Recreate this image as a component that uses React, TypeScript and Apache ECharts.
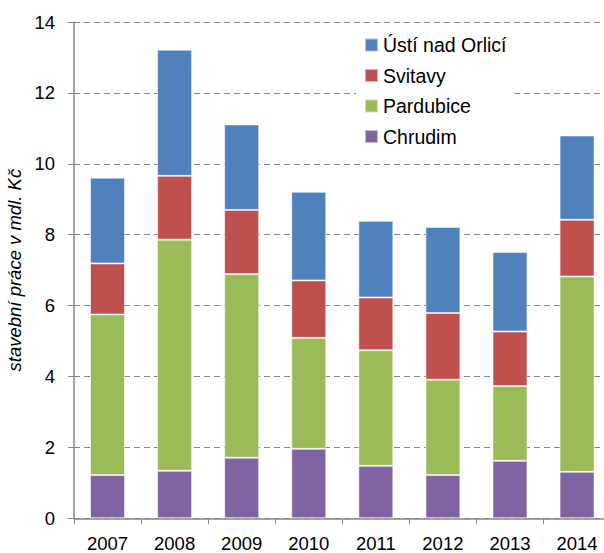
import React, { useEffect, useRef } from "react";
import * as echarts from "echarts";

const years = ["2007", "2008", "2009", "2010", "2011", "2012", "2013", "2014"];
const chrudim = [1.22, 1.34, 1.71, 1.96, 1.48, 1.22, 1.62, 1.31];
const pardubice = [4.53, 6.52, 5.18, 3.13, 3.26, 2.69, 2.11, 5.51];
const svitavy = [1.44, 1.8, 1.81, 1.62, 1.49, 1.88, 1.54, 1.6];
const usti = [2.42, 3.56, 2.41, 2.5, 2.16, 2.43, 2.24, 2.38];
const legendOrder = ["Ústí nad Orlicí", "Svitavy", "Pardubice", "Chrudim"];

export default function App() {
  const ref = useRef<HTMLDivElement>(null);
  useEffect(() => {
    if (!ref.current) return;
    const chart = echarts.init(ref.current, undefined, { renderer: "svg" });
    const font = "Liberation Sans, Arial, sans-serif";
    const mk = (name: string, data: number[], color: string) => ({
      name,
      type: "bar",
      stack: "a",
      data,
      barWidth: 35,
      itemStyle: { color, borderColor: "rgba(255,255,255,0.55)", borderWidth: 1 },
    });
    chart.setOption({
      animation: false,
      backgroundColor: "#fff",
      textStyle: { fontFamily: font },
      grid: {
        left: 74,
        top: 22,
        width: 536.6,
        height: 496.3,
        containLabel: false,
        outerBoundsMode: "none",
      },
      legend: {
        orient: "vertical",
        left: 356,
        top: 35,
        data: legendOrder,
        itemWidth: 13,
        itemHeight: 13,
        itemGap: 10.5,
        padding: [0, 8, 0, 8],
        backgroundColor: "#fff",
        textStyle: { fontSize: 19.5, color: "#000", fontFamily: font },
        icon: "rect",
      },
      xAxis: {
        type: "category",
        data: years,
        axisLine: { lineStyle: { color: "#868686", width: 1.5 } },
        axisTick: { show: true, length: 6, lineStyle: { color: "#868686" } },
        axisLabel: { fontSize: 18.5, color: "#000", margin: 16, fontFamily: font },
      },
      yAxis: {
        type: "value",
        min: 0,
        max: 14,
        interval: 2,
        name: "stavební práce v mdl. Kč",
        nameLocation: "middle",
        nameGap: 47,
        nameTextStyle: { fontSize: 18.5, fontStyle: "italic", color: "#000", fontFamily: font },
        axisLine: { show: true, lineStyle: { color: "#868686", width: 1.5 } },
        axisTick: { show: true, length: 6, lineStyle: { color: "#868686" } },
        axisLabel: { fontSize: 18.5, color: "#000", margin: 19, fontFamily: font },
        splitLine: { lineStyle: { color: "#868686", type: [6, 4], width: 1 } },
      },
      series: [
        mk("Chrudim", chrudim, "#8064A2"),
        mk("Pardubice", pardubice, "#9BBB59"),
        mk("Svitavy", svitavy, "#C0504D"),
        mk("Ústí nad Orlicí", usti, "#4F81BD"),
      ],
    });
    return () => chart.dispose();
  }, []);
  return (
    <div
      ref={ref}
      style={{ position: "fixed", left: 0, top: 0, width: 604, height: 553 }}
    />
  );
}
